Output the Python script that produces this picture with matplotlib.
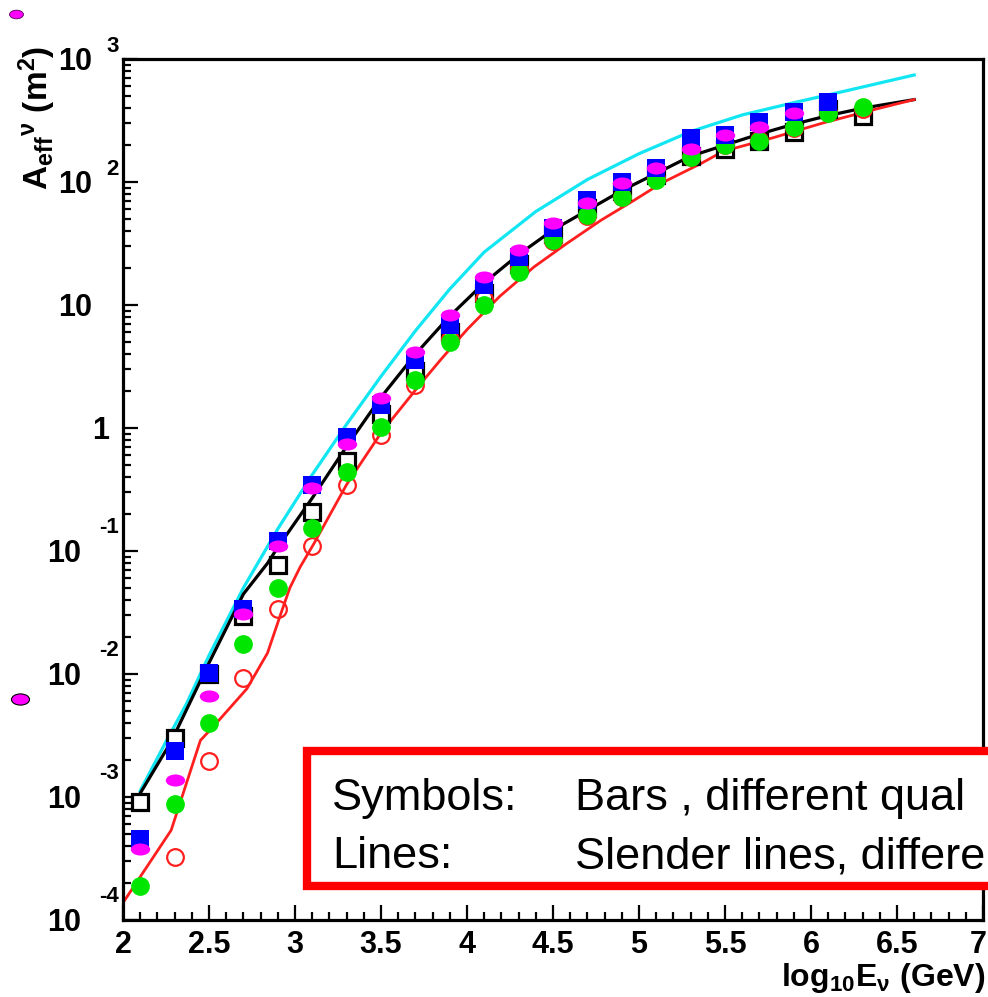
import numpy as np
import matplotlib
matplotlib.use("Agg")
import matplotlib.pyplot as plt
from matplotlib.path import Path
from matplotlib.transforms import Affine2D, ScaledTranslation
from matplotlib.patches import Rectangle
from matplotlib.lines import Line2D
from matplotlib.ticker import MultipleLocator, LogLocator, NullFormatter, FuncFormatter

plt.rcParams["font.family"] = ["Liberation Sans", "DejaVu Sans"]
plt.rcParams["font.weight"] = "bold"
plt.rcParams["mathtext.fontset"] = "custom"
plt.rcParams["mathtext.rm"] = "Liberation Sans:bold"
plt.rcParams["mathtext.bf"] = "Liberation Sans:bold"
plt.rcParams["mathtext.it"] = "Liberation Sans:bold"

# symbol x positions (log10 E / GeV)
x_all = [2.1, 2.3, 2.5, 2.7, 2.9, 3.1, 3.3, 3.5, 3.7, 3.9, 4.1,
         4.3, 4.5, 4.7, 4.9, 5.1, 5.3, 5.5, 5.7, 5.9, 6.1, 6.3]

# log10 of effective area (m^2)
black_sq = [-3.04, -2.52, -2.00, -1.53, -1.11, -0.68, -0.27, 0.11, 0.46, 0.78, 1.10,
            1.33, 1.58, 1.79, 1.93, 2.06, 2.21, 2.27, 2.33, 2.41, 2.59, 2.54]
blue_sq = [-3.34, -2.63, -1.99, -1.47, -0.92, -0.46, -0.07, 0.19, 0.55, 0.84, 1.16,
           1.39, 1.63, 1.85, 2.00, 2.11, 2.36, 2.38, 2.49, 2.57, 2.65]
magenta_el = [-3.42, -2.86, -2.18, -1.51, -0.96, -0.49, -0.13, 0.24, 0.615, 0.92, 1.23,
              1.45, 1.67, 1.83, 1.99, 2.11, 2.27, 2.38, 2.45, 2.56]
green_ci = [-3.72, -3.06, -2.40, -1.76, -1.30, -0.81, -0.36, 0.01, 0.39, 0.70, 1.00,
            1.27, 1.53, 1.73, 1.88, 2.02, 2.20, 2.30, 2.33, 2.45, 2.56, 2.61]
red_open = [-3.49, -2.71, -2.03, -1.47, -0.96, -0.46, -0.06, 0.35, 0.72, 1.05,
            1.30, 1.52, 1.72, 1.88, 2.03, 2.20, 2.30, 2.34, 2.44, 2.57, 2.59]

# curves
cyan_x = [2.1, 2.25, 2.37, 2.5, 2.7, 2.9, 3.1, 3.3, 3.5, 3.7, 3.9, 4.1, 4.4,
          4.7, 5.0, 5.3, 5.6, 5.9, 6.2, 6.6]
cyan_y = [-2.95, -2.55, -2.24, -1.85, -1.30, -0.82, -0.38, 0.03, 0.42, 0.79, 1.13, 1.43, 1.76,
          2.02, 2.23, 2.41, 2.545, 2.645, 2.74, 2.87]
black_x = [2.1, 2.28, 2.5, 2.7, 2.84, 2.9, 3.1, 3.3, 3.5, 3.7, 3.9, 4.1, 4.3, 4.5,
           4.7, 4.9, 5.1, 5.3, 5.5, 5.7, 5.9, 6.1, 6.3, 6.6]
black_y = [-2.97, -2.55, -1.91, -1.35, -1.10, -0.97, -0.57, -0.15, 0.25, 0.60, 0.91, 1.18, 1.41, 1.61,
           1.77, 1.93, 2.07, 2.21, 2.30, 2.39, 2.47, 2.54, 2.60, 2.67]
red_x = [2.0, 2.28, 2.45, 2.53, 2.72, 2.84, 2.92, 2.97, 3.03, 3.11, 3.3, 3.5, 3.73, 3.85,
         4.0, 4.19, 4.39, 4.58, 4.78, 4.97, 5.13, 5.36, 5.49, 5.78, 6.07, 6.37, 6.6]
red_y = [-3.86, -3.27, -2.54, -2.42, -2.12, -1.83, -1.50, -1.30, -1.13, -0.94, -0.46, -0.04, 0.36, 0.56,
         0.80, 1.07, 1.31, 1.50, 1.69, 1.85, 1.99, 2.15, 2.25, 2.36, 2.48, 2.59, 2.67]

y_decades = [-4, -3, -2, -1, 0, 1, 2, 3]

fig = plt.figure(figsize=(9.88, 9.97), dpi=100)
ax = fig.add_axes([123 / 988, 77 / 997, 860 / 988, 861 / 997])

def val(a):
    return np.power(10.0, a)

ax.plot(cyan_x, val(cyan_y), color="#12e6f2", lw=2.3, zorder=2)
ax.plot(black_x, val(black_y), color="black", lw=2.3, zorder=2)
ax.plot(red_x, val(red_y), color="#ff1f1f", lw=2.0, zorder=2)

ellipse = Path.unit_circle().transformed(Affine2D().scale(1.0, 0.62))

ax.plot(x_all, val(black_sq), ls="none", marker="s", ms=11.5, mfc="white",
        mec="black", mew=2.3, zorder=3)
ax.plot(x_all[1:], val(red_open), ls="none", marker="o", ms=12, mfc="none",
        mec="#ff1f1f", mew=1.6, zorder=4)
ax.plot(x_all, val(green_ci), ls="none", marker="o", ms=13.5, mfc="#00e600",
        mew=0, zorder=5)
ax.plot(x_all[:len(blue_sq)], val(blue_sq), ls="none", marker="s", ms=13.5,
        mfc="#0000ff", mew=0, zorder=6)
ax.plot(x_all[:len(magenta_el)], val(magenta_el), ls="none", marker=ellipse, ms=14,
        mfc="#ff00ff", mew=0, zorder=7)

ax.set_yscale("log")
ax.set_xlim(2, 7)
ax.set_ylim(1e-4, 1e3)

ax.xaxis.set_major_locator(MultipleLocator(0.5))
ax.xaxis.set_minor_locator(MultipleLocator(0.1))
ax.xaxis.set_major_formatter(FuncFormatter(lambda v, p: "" if v > 6.9 else f"{v:g}"))
ax.yaxis.set_major_locator(LogLocator(base=10, numticks=20))
ax.yaxis.set_minor_locator(LogLocator(base=10, subs=np.arange(2, 10), numticks=20))
ax.yaxis.set_major_formatter(NullFormatter())
ax.yaxis.set_minor_formatter(NullFormatter())

ax.tick_params(which="both", direction="in", top=False, right=False, width=1.6)
ax.tick_params(which="major", length=11, labelsize=22, pad=7)
ax.tick_params(which="minor", length=5.5)
for s in ax.spines.values():
    s.set_linewidth(2.3)

fig.canvas.draw()
for t in ax.xaxis.get_major_ticks():
    if abs(t.get_loc() - 6.5) < 1e-6:
        t.tick1line.set_color("blue")

# last x label sits against the right edge of the canvas
ax.text(7, 0, "7", fontsize=22, ha="right", va="top",
        transform=ax.get_xaxis_transform() + ScaledTranslation(4 / 100, -10 / 100, fig.dpi_scale_trans))

# ROOT style decade labels on the y axis
def ylab(px, dy):
    return ax.get_yaxis_transform() + ScaledTranslation((px - 123) / 100, dy / 100, fig.dpi_scale_trans)

for e in y_decades:
    yv = 10.0 ** e
    if e == 0:
        ax.text(0, yv, "1", transform=ylab(109, -11), ha="right", va="baseline", fontsize=22)
        continue
    right = 92 if e > 0 else 81
    ax.text(0, yv, "10", transform=ylab(right, -11), ha="right", va="baseline", fontsize=22)
    if e != 1:
        up = 7 if e > 0 else 18
        ax.text(0, yv, str(e), transform=ylab(119, up), ha="right", va="baseline", fontsize=16)

fig.text(37 / 988, 1 - 46 / 997, r"$\mathbf{A_{eff}{}^{\nu}\ (m^{2})}$", rotation=90,
         ha="center", va="top", fontsize=24)
fig.text(985 / 988, 1 - 986 / 997, r"$\mathbf{log_{10}E_{\nu}\ (GeV)}$",
         ha="right", va="baseline", fontsize=23)

# annotation box, running off the right edge as in the original
box = Rectangle((307 / 988, (997 - 886) / 997), 800 / 988, 135 / 997,
                transform=fig.transFigure, facecolor="white", edgecolor="#ff0000",
                lw=6, zorder=10, clip_on=False)
fig.add_artist(box)
for ypx, a, b in [(810, "Symbols:", "Bars , different qual"),
                  (868, "Lines:", "Slender lines, differe")]:
    fig.text(332 / 988, 1 - ypx / 997, a, fontsize=32.5, fontweight="normal",
             ha="left", va="baseline", zorder=11)
    fig.text(575 / 988, 1 - ypx / 997, b, fontsize=32.5, fontweight="normal",
             ha="left", va="baseline", zorder=11)

# stray magenta markers in the left margin
fig.add_artist(Line2D([16 / 988], [1 - 14 / 997], transform=fig.transFigure, ls="none",
                      marker=ellipse, ms=10, mfc="#ff00ff", mec="#550055", mew=0.6))
fig.add_artist(Line2D([20 / 988], [1 - 699 / 997], transform=fig.transFigure, ls="none",
                      marker=ellipse, ms=13, mfc="#ff00ff", mec="black", mew=0.8))

fig.savefig("out.png", dpi=100)
